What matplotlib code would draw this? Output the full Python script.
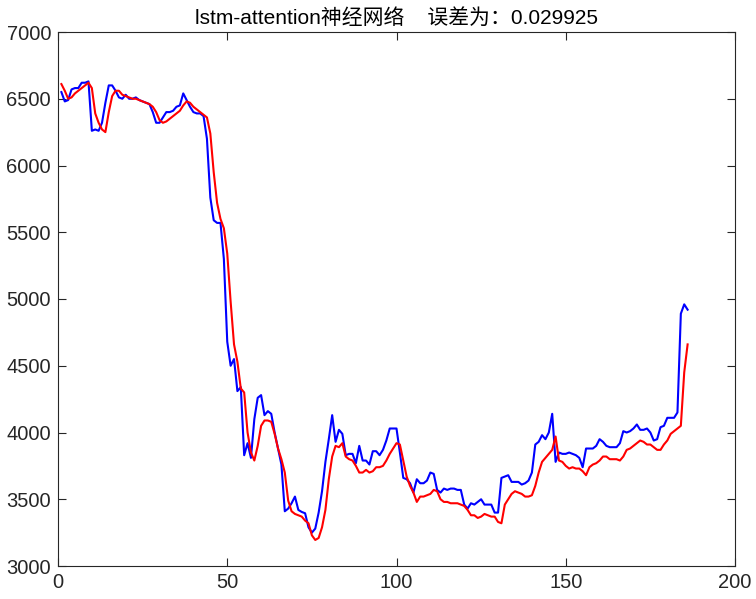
import matplotlib
matplotlib.use("Agg")
import matplotlib.pyplot as plt
import numpy as np

plt.rcParams['font.family'] = ['Liberation Sans', 'Noto Sans CJK SC', 'DejaVu Sans']

# actual values (blue)
actual = [
    6550, 6480, 6490, 6570, 6580, 6580, 6620, 6620, 6630, 6260,
    6270, 6260, 6320, 6470, 6600, 6600, 6560, 6510, 6500, 6530,
    6500, 6500, 6510, 6490, 6480, 6470, 6460, 6400, 6320, 6320,
    6360, 6400, 6400, 6410, 6440, 6450, 6540, 6490, 6440, 6400,
    6390, 6390, 6370, 6200, 5760, 5590, 5570, 5570, 5300, 4680,
    4500, 4550, 4310, 4340, 3830, 3920, 3810, 4100, 4260, 4280,
    4130, 4160, 4140, 4000, 3880, 3760, 3410, 3430, 3470, 3520,
    3420, 3405, 3395, 3290, 3250, 3280, 3400, 3560, 3780, 3950,
    4130, 3930, 4020, 3990, 3830, 3840, 3840, 3770, 3900, 3790,
    3790, 3760, 3860, 3860, 3830, 3870, 3940, 4030, 4030, 4030,
    3850, 3660, 3650, 3620, 3550, 3650, 3620, 3620, 3640, 3700,
    3690, 3570, 3550, 3580, 3570, 3580, 3580, 3570, 3570, 3460,
    3430, 3470, 3460, 3480, 3500, 3460, 3460, 3460, 3400, 3400,
    3660, 3670, 3680, 3630, 3630, 3630, 3610, 3620, 3640, 3700,
    3910, 3930, 3980, 3950, 4000, 4140, 3780, 3850, 3840, 3840,
    3850, 3840, 3830, 3810, 3740, 3880, 3880, 3880, 3900, 3950,
    3930, 3900, 3890, 3890, 3890, 3920, 4010, 4000, 4010, 4030,
    4060, 4020, 4020, 4030, 4000, 3940, 3950, 4040, 4050, 4110,
    4110, 4110, 4150, 4890, 4960, 4920,
]

# predicted values (red)
predicted = [
    6610, 6560, 6500, 6510, 6540, 6560, 6580, 6600, 6620, 6580,
    6390, 6320, 6270, 6250, 6400, 6520, 6560, 6560, 6530, 6520,
    6510, 6500, 6500, 6490, 6480, 6470, 6460, 6440, 6400, 6340,
    6320, 6330, 6350, 6370, 6390, 6410, 6450, 6480, 6470, 6440,
    6420, 6400, 6380, 6360, 6240, 5950, 5720, 5600, 5530, 5340,
    4980, 4660, 4530, 4330, 4300, 4000, 3850, 3790, 3900, 4050,
    4090, 4090, 4080, 3990, 3880, 3800, 3700, 3490, 3410, 3390,
    3380, 3370, 3340, 3320, 3230, 3195, 3210, 3290, 3420, 3650,
    3820, 3900, 3890, 3920, 3820, 3800, 3790, 3750, 3700, 3700,
    3720, 3700, 3710, 3740, 3740, 3750, 3790, 3840, 3880, 3920,
    3910, 3790, 3670, 3600, 3550, 3480, 3520, 3520, 3530, 3540,
    3570, 3560, 3500, 3480, 3480, 3470, 3470, 3470, 3460, 3450,
    3420, 3380, 3380, 3360, 3370, 3390, 3380, 3370, 3370, 3330,
    3320, 3460, 3500, 3540, 3560, 3550, 3540, 3520, 3520, 3530,
    3600, 3700, 3780, 3810, 3840, 3870, 3970, 3790, 3780, 3750,
    3730, 3740, 3730, 3730, 3710, 3680, 3740, 3760, 3770, 3790,
    3820, 3820, 3800, 3800, 3800, 3790, 3820, 3870, 3880, 3900,
    3920, 3940, 3930, 3910, 3910, 3890, 3870, 3870, 3910, 3940,
    3990, 4010, 4030, 4050, 4450, 4660,
]

err = 0.029925
x = np.arange(1, len(actual) + 1)

fig = plt.figure(figsize=(7.56, 5.99), dpi=100)
ax = fig.add_axes([58 / 756, 1 - 566 / 599, (735 - 58) / 756, (566 - 32) / 599])

ax.plot(x, actual, color='#0000ff', linewidth=1.5)
ax.plot(x, predicted, color='#ff0000', linewidth=1.5)

ax.set_xlim(0, 200)
ax.set_ylim(3000, 7000)
ax.set_xticks([0, 50, 100, 150, 200])
ax.set_yticks([3000, 3500, 4000, 4500, 5000, 5500, 6000, 6500, 7000])
ax.tick_params(direction='in', top=True, right=True, length=6, width=0.8,
               labelsize=14.5, colors='#262626', pad=5)
for s in ax.spines.values():
    s.set_linewidth(0.8)
    s.set_color('#262626')

ax.set_title('lstm-attention神经网络    误差为：' + f'{err:.6f}', fontsize=15, pad=6, color='#000000')

fig.savefig('out.png', dpi=100)
